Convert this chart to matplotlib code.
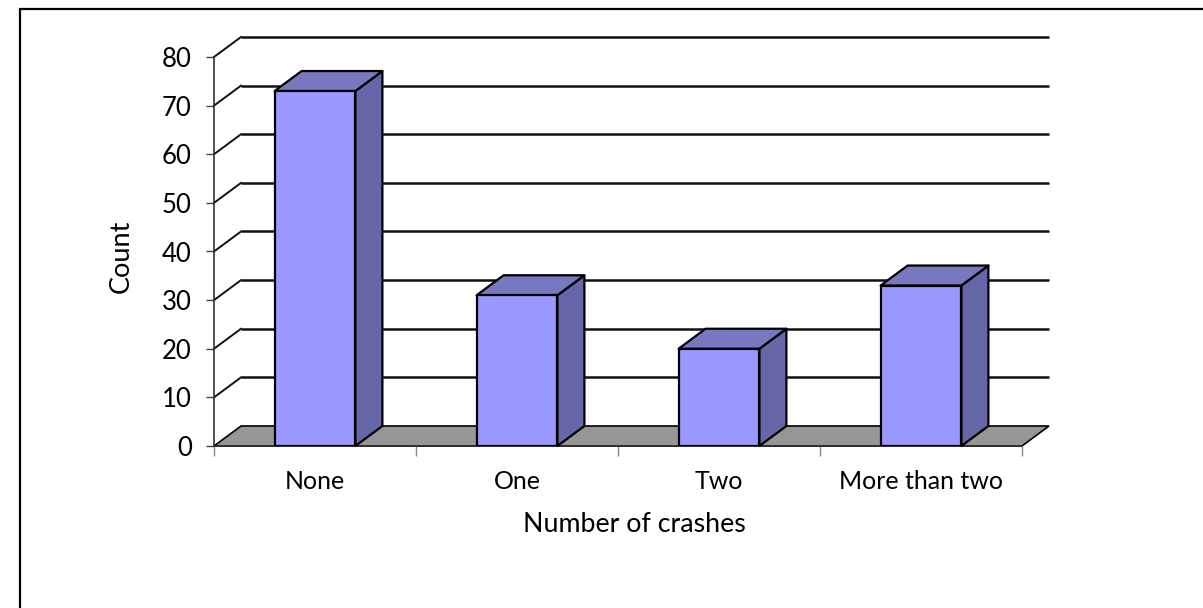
import matplotlib
matplotlib.use("Agg")
import matplotlib.pyplot as plt
from matplotlib.patches import Polygon, Rectangle
from matplotlib.transforms import ScaledTranslation, blended_transform_factory

categories = ["None", "One", "Two", "More than two"]
counts = [73, 31, 20, 33]
y_ticks = [0, 10, 20, 30, 40, 50, 60, 70, 80]

W, H = 1203, 608
plt.rcParams["font.family"] = ["Lato", "DejaVu Sans"]
fig = plt.figure(figsize=(W / 100, H / 100), dpi=100)

# page frame (right and bottom edges run off the page)
fig.add_artist(Rectangle((20 / W, -0.01), (W + 10 - 20) / W, 1.01 - 9 / H, transform=fig.transFigure,
                         fill=False, edgecolor="black", linewidth=1.6))

L, R, T, B = 214, 1022, 57, 446
ax = fig.add_axes([L / W, 1 - B / H, (R - L) / W, (B - T) / H])
ax.set_xlim(0, len(categories))
ax.set_ylim(y_ticks[0], y_ticks[-1])
ax.patch.set_visible(False)
for s in ("top", "right"):
    ax.spines[s].set_visible(False)
for s in ("left", "bottom"):
    ax.spines[s].set_color("#333333")
    ax.spines[s].set_linewidth(1.2)

depth = ScaledTranslation(27 / 100, 20 / 100, fig.dpi_scale_trans)
back = ax.transData + depth
n = len(categories)
ymin, ymax = y_ticks[0], y_ticks[-1]


def box_face(front, back_pts, **kw):
    """Polygon from data-space points in the front plane and the depth plane."""
    pts = [ax.transData.transform(p) for p in front] + [back.transform(p) for p in back_pts]
    ax.add_patch(Polygon(pts, closed=True, transform=None, clip_on=False, **kw))


# floor
box_face([(0, ymin), (n, ymin)], [(n, ymin), (0, ymin)], facecolor="#969696",
         edgecolor="black", linewidth=1.2, zorder=1)

# gridlines: back wall plus slanted side wall
for v in y_ticks[1:]:
    ax.plot([0, n], [v, v], transform=back, color="#111111", lw=1.8, clip_on=False, zorder=1.5,
            solid_capstyle="butt")
    p0 = ax.transData.transform((0, v))
    p1 = back.transform((0, v))
    ax.plot([p0[0], p1[0]], [p0[1], p1[1]], transform=None, color="#111111", lw=1.4,
            clip_on=False, zorder=1.5)

# bars
bar_w = 0.4
for i, c in enumerate(counts):
    x0, x1 = i + 0.5 - bar_w / 2, i + 0.5 + bar_w / 2
    kw = dict(edgecolor="black", linewidth=1.6, joinstyle="round")
    box_face([(x1, 0), (x1, c)], [(x1, c), (x1, 0)], facecolor="#6666A8", zorder=3, **kw)
    box_face([(x0, c), (x1, c)], [(x1, c), (x0, c)], facecolor="#7878C0", zorder=3, **kw)
    ax.add_patch(Rectangle((x0, 0), bar_w, c, facecolor="#9999FF", zorder=4, **kw))

ax.set_yticks(y_ticks)
ax.set_xticks(range(n + 1))
ax.set_xticklabels([""] * (n + 1))
ax.tick_params(axis="y", length=6, width=1, color="#444444", labelsize=18.5, pad=10, labelcolor="black")
ax.tick_params(axis="x", length=7, width=1, color="#888888")
trans = blended_transform_factory(ax.transData, ax.transAxes)
for i, name in enumerate(categories):
    ax.text(i + 0.5, -0.09, name, transform=trans, ha="center", va="center", fontsize=18)
fig.text(121 / W, 1 - 256 / H, "Count", rotation=90, ha="center", va="center", fontsize=19.5)
fig.text(634 / W, 1 - 524 / H, "Number of crashes", ha="center", va="center", fontsize=19.3)

fig.savefig("out.png", dpi=100)
